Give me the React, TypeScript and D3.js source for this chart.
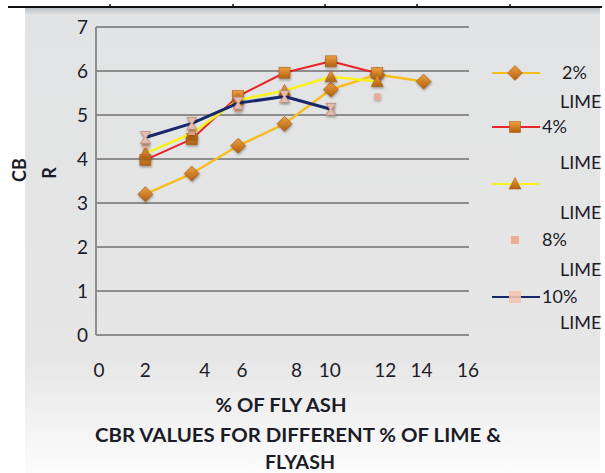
import React from "react";
import * as d3 from "d3";

const flyAsh = [2, 4, 6, 8, 10, 12, 14];
const seriesNames = ["2% LIME", "4% LIME", "6% LIME", "8% LIME", "10% LIME"];
const lime2 = [3.2, 3.67, 4.3, 4.8, 5.58, 5.92, 5.76];
const lime4 = [3.98, 4.45, 5.43, 5.96, 6.22, 5.95];
const lime6 = [4.13, 4.58, 5.34, 5.55, 5.87, 5.76];
const lime8 = [4.32, 4.62, 5.14, 5.39, 5.14, 5.42];
const lime10 = [4.49, 4.81, 5.27, 5.42, 5.13];
const xTicks = [0, 2, 4, 6, 8, 10, 12, 14, 16];
const yTicks = [0, 1, 2, 3, 4, 5, 6, 7];
const legendFirstLine = ["2%", "4%", "", "8%", "10%"];
const legendSecondLine = ["LIME", "LIME", "LIME", "LIME", "LIME"];
const xTitle = "% OF FLY ASH";
const chartTitle = ["CBR VALUES FOR DIFFERENT % OF LIME &", "FLYASH"];

// layout-only: label nudges as rendered in the reference
const xLabelNudge = [0, 0, 13, 4, 12, -1, 8, -2, -2];

const W = 605;
const H = 473;
const plot = { left: 96, right: 469, top: 27, bottom: 335 };
const FONT = "Lato, 'Open Sans', sans-serif";
const TXT = "#1c1c28";

const x = d3.scaleLinear().domain([0, 16]).range([99, 470]);
const y = d3.scaleLinear().domain([0, 7]).range([plot.bottom, plot.top]);

type Style = { color: string | null; width: number; marker: string };
const styles: Style[] = [
  { color: "#f6bd22", width: 2.5, marker: "diamond" },
  { color: "#e8242a", width: 2, marker: "square" },
  { color: "#f7f21e", width: 2.5, marker: "triangle" },
  { color: null, width: 0, marker: "smallsquare" },
  { color: "#17296a", width: 3, marker: "hourglass" },
];
const allSeries = [lime2, lime4, lime6, lime8, lime10];

function Marker({ kind, cx, cy, legend }: { kind: string; cx: number; cy: number; legend?: boolean }) {
  const t = `translate(${cx},${cy})`;
  const filt = legend ? undefined : "url(#shadow)";
  if (kind === "diamond") {
    return <path transform={t} d="M0,-7.5L7.5,0L0,7.5L-7.5,0Z" fill="url(#orangeGrad)" stroke="#9a5214" strokeWidth={0.6} filter={filt} />;
  }
  if (kind === "square") {
    return <rect transform={t} x={-5.5} y={-5.5} width={11} height={11} fill="url(#orangeGrad)" stroke="#a8601c" strokeWidth={0.6} filter={filt} />;
  }
  if (kind === "triangle") {
    return <path transform={t} d="M0,-6.5L6,5L-6,5Z" fill="url(#orangeGrad)" stroke="#a8601c" strokeWidth={0.6} filter={filt} />;
  }
  if (kind === "smallsquare") {
    const s = legend ? 8 : 6.5;
    return <rect transform={t} x={-s / 2} y={-s / 2} width={s} height={s} fill="#eaa88a" opacity={0.9} filter={filt} />;
  }
  if (kind === "legendsquare") {
    return <rect transform={t} x={-6} y={-6} width={12} height={12} fill="#f3c4ae" opacity={0.9} />;
  }
  // hourglass
  return (
    <path
      transform={t}
      d="M-5,-6L5,-6L1,0L5,6L-5,6L-1,0Z"
      fill="#e4bcae"
      stroke="#b88a7a"
      strokeWidth={0.8}
      filter={filt}
    />
  );
}

export default function App() {
  const line = d3
    .line<number>()
    .x((_, i) => x(flyAsh[i]))
    .y((d) => y(d));

  const legendY = [73, 127, 184, 240, 297];
  const legendSecondY = [102, 163, 213, 270, 323];

  return (
    <svg width={W} height={H} style={{ position: "absolute", left: 0, top: 0 }}>
      <defs>
        <linearGradient id="panelGrad" x1="0" y1="0" x2="0" y2="1">
          <stop offset="0" stopColor="#b9c0c8" />
          <stop offset="0.015" stopColor="#e2e3e4" />
          <stop offset="0.75" stopColor="#e6e6e6" />
          <stop offset="1" stopColor="#fcfcfc" />
        </linearGradient>
        <linearGradient id="orangeGrad" x1="0" y1="0" x2="0" y2="1">
          <stop offset="0" stopColor="#f0a040" />
          <stop offset="1" stopColor="#b0600f" />
        </linearGradient>
        <filter id="shadow" x="-50%" y="-50%" width="200%" height="200%">
          <feDropShadow dx="0.5" dy="1.5" stdDeviation="1.2" floodColor="#000" floodOpacity="0.35" />
        </filter>
      </defs>
      <rect x={0} y={0} width={W} height={H} fill="#ffffff" />
      <rect x={25} y={8} width={575} height={H - 8} fill="url(#panelGrad)" />
      {/* top border line */}
      <line x1={8} x2={602} y1={7} y2={7} stroke="#111" strokeWidth={2} />
      {[110, 233, 325, 417, 510].map((tx) => (
        <line key={tx} x1={tx} x2={tx} y1={4} y2={7} stroke="#111" strokeWidth={1.5} />
      ))}

      {/* gridlines */}
      {yTicks.map((t) => (
        <line key={t} x1={plot.left} x2={plot.right} y1={y(t)} y2={y(t)} stroke="#8d8d8d" strokeWidth={2} />
      ))}
      <line x1={plot.left} x2={plot.left} y1={plot.top} y2={plot.bottom} stroke="#8d8d8d" strokeWidth={2} />

      {/* y tick labels */}
      {yTicks.map((t) => (
        <text key={t} x={88} y={y(t)} dy="0.35em" textAnchor="end" fontFamily={FONT} fontSize={19} fill={TXT}>
          {t}
        </text>
      ))}
      {/* x tick labels */}
      {xTicks.map((t, i) => (
        <text key={t} x={x(t) + xLabelNudge[i]} y={370} dy="0.35em" textAnchor="middle" fontFamily={FONT} fontSize={19} fill={TXT}>
          {t}
        </text>
      ))}

      {/* series */}
      {allSeries.map((s, si) => {
        const st = styles[si];
        return (
          <g key={si}>
            {st.color && (
              <path d={line(s) || ""} fill="none" stroke={st.color} strokeWidth={st.width} strokeLinejoin="round" />
            )}
            {s.map((v, i) => (
              <Marker key={i} kind={st.marker} cx={x(flyAsh[i])} cy={y(v)} />
            ))}
          </g>
        );
      })}

      {/* axis titles */}
      <text transform="translate(20,170) rotate(-90)" textAnchor="middle" dy="0.35em" fontFamily={FONT} fontWeight="bold" fontSize={18} fill={TXT}>
        CB
      </text>
      <text transform="translate(50,173) rotate(-90)" textAnchor="middle" dy="0.35em" fontFamily={FONT} fontWeight="bold" fontSize={18} fill={TXT}>
        R
      </text>
      <text x={281} y={405} dy="0.35em" textAnchor="middle" fontFamily={FONT} fontWeight="bold" fontSize={19.5} fill={TXT} textLength={131} lengthAdjust="spacingAndGlyphs">
        {xTitle}
      </text>
      <text x={298} y={435} dy="0.35em" textAnchor="middle" fontFamily={FONT} fontWeight="bold" fontSize={19.5} fill={TXT} textLength={406} lengthAdjust="spacingAndGlyphs">
        {chartTitle[0]}
      </text>
      <text x={300} y={462} dy="0.35em" textAnchor="middle" fontFamily={FONT} fontWeight="bold" fontSize={19.5} fill={TXT} textLength={70} lengthAdjust="spacingAndGlyphs">
        {chartTitle[1]}
      </text>

      {/* legend */}
      {seriesNames.map((name, i) => {
        const st = styles[i];
        const ly = legendY[i];
        return (
          <g key={name}>
            {st.color && <line x1={492} x2={540} y1={ly} y2={ly} stroke={st.color} strokeWidth={2} />}
            <Marker kind={i === 4 ? "legendsquare" : st.marker} cx={515} cy={ly} legend />
            {legendFirstLine[i] && (
              <text x={i === 0 ? 562 : 542} y={ly} dy="0.35em" fontFamily={FONT} fontSize={18} fill={TXT}>
                {legendFirstLine[i]}
              </text>
            )}
            <text x={560} y={legendSecondY[i]} dy="0.35em" fontFamily={FONT} fontSize={18} fill={TXT}>
              {legendSecondLine[i]}
            </text>
          </g>
        );
      })}
    </svg>
  );
}
